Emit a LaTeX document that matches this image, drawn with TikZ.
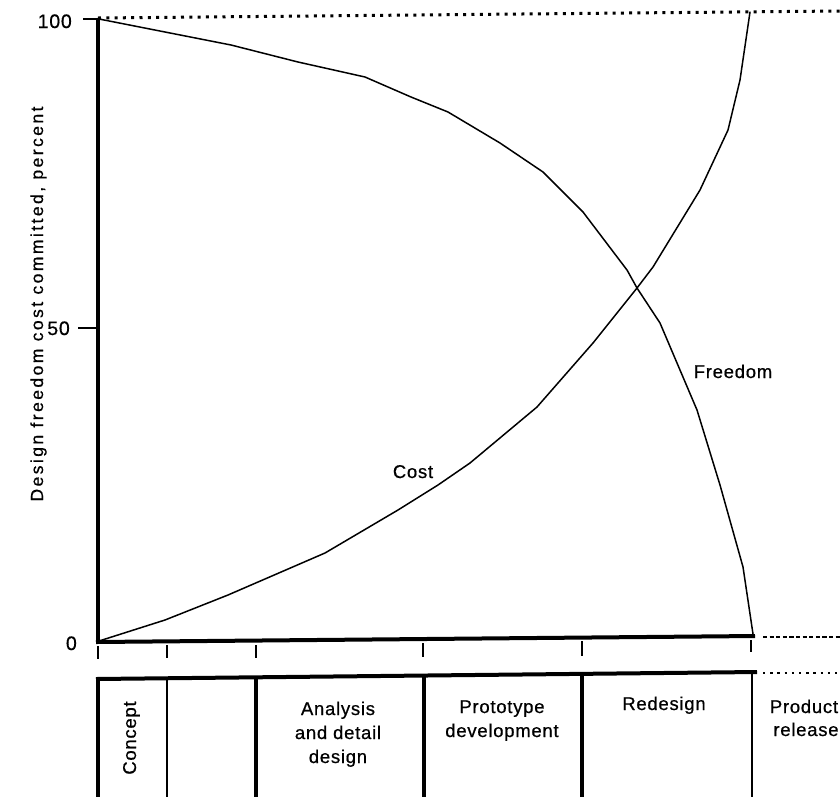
\documentclass[tikz,border=0pt]{standalone}
\usepackage{fontspec}
\setmainfont[LetterSpace=4,FakeBold=0.6]{Liberation Sans}
\newfontfamily\axisfont[LetterSpace=14,FakeBold=0.6]{Liberation Sans}
\begin{document}
\begin{tikzpicture}[x=1pt,y=-1pt,
  lab/.style={inner sep=0pt, font=\fontsize{18.5}{22}\selectfont},
  num/.style={inner sep=0pt, font=\fontsize{19.5}{22}\selectfont},
  axisline/.style={line width=4pt, line cap=butt, line join=miter},
  divider/.style={line width=4.5pt},
  thindivider/.style={line width=2.8pt},
  curve/.style={line width=1.5pt, line join=round, line cap=round},
  tickmark/.style={line width=1.1pt},
  dotline/.style={line width=3pt, dash pattern=on 3pt off 5.3pt},
  smalldots/.style={line width=2.4pt, dash pattern=on 2.4pt off 4.8pt},
  dashline/.style={line width=2.6pt, dash pattern=on 4.2pt off 2.4pt}]
\useasboundingbox (0,0) rectangle (840,796);

% key points
\coordinate (ytop) at (98,18);
\coordinate (origin) at (98,642);
\coordinate (xend) at (755,636);
\coordinate (topR) at (840,11);
\coordinate (dashR) at (840,637);
\coordinate (boxL) at (96,679);
\coordinate (boxR) at (757,672);
\coordinate (dotR) at (840,673);

% dotted 100% line
\draw[dotline] (ytop) -- (topR);
% axes
\draw[axisline] (ytop) -- (origin);
\draw[axisline] (96,642) -- (xend);
\draw[dashline] (763,637) -- (dashR);

% axis ticks
\draw[tickmark] (83,19) -- (98,19);
\draw[tickmark] (78,328) -- (98,328);
\foreach \x/\ya/\yb in {98/646/659, 167/645/658, 256/645/658, 423/643/657, 582/641/656, 751/640/652}
  \draw[tickmark] (\x,\ya) -- (\x,\yb);

% axis numbers
\node[num, anchor=base east] (n100) at (72,28) {100};
\node[num, anchor=base east] (n50) at (70,335) {50};
\node[num, anchor=base east] (n0) at (77,650) {0};

% axis title
\node[inner sep=0pt, rotate=90, anchor=base, font=\axisfont\fontsize{17.5}{20}\selectfont] (ytitle) at (43,304) {Design freedom cost committed, percent};

% freedom curve
\draw[curve] (99,19) -- (165,32) -- (231,45) -- (298,62) -- (365,77) -- (411,97) -- (448,112)
  -- (500,143) -- (543,172) -- (583,212) -- (627,270) -- (637,288) -- (660,323) -- (697,410)
  -- (720,485) -- (743,567) -- (753,634);
% cost curve
\draw[curve] (99,641) -- (165,620) -- (228,595) -- (325,553) -- (398,510) -- (438,485) -- (470,463)
  -- (537,407) -- (593,343) -- (637,288) -- (653,267) -- (700,190) -- (728,130) -- (740,80) -- (750,12);

\node[lab, anchor=base] (freedom) at (733,378) {Freedom};
\node[lab, anchor=base] (cost) at (413,478) {Cost};

% phase table
\draw[axisline] (boxL) -- (boxR);
\draw[smalldots] (763,673) -- (dotR);
\draw[divider] (98,677) -- (98,800);
\draw[thindivider] (167,678) -- (167,800);
\draw[divider] (256,677) -- (256,800);
\draw[divider] (424,675) -- (424,800);
\draw[divider] (582,674) -- (582,800);
\draw[thindivider] (752,672) -- (752,800);

\node[lab, rotate=90, anchor=base] (concept) at (136,738) {Concept};
\node[lab, anchor=base] (an1) at (338,715) {Analysis};
\node[lab, anchor=base] (an2) at (338,739) {and detail};
\node[lab, anchor=base] (an3) at (338,763) {design};
\node[lab, anchor=base] (pr1) at (502,713) {Prototype};
\node[lab, anchor=base] (pr2) at (502,737) {development};
\node[lab, anchor=base] (rd) at (664,710) {Redesign};
\node[lab, anchor=base] (pd1) at (804,713) {Product};
\node[lab, anchor=base] (pd2) at (806,736) {release};
\end{tikzpicture}
\end{document}
